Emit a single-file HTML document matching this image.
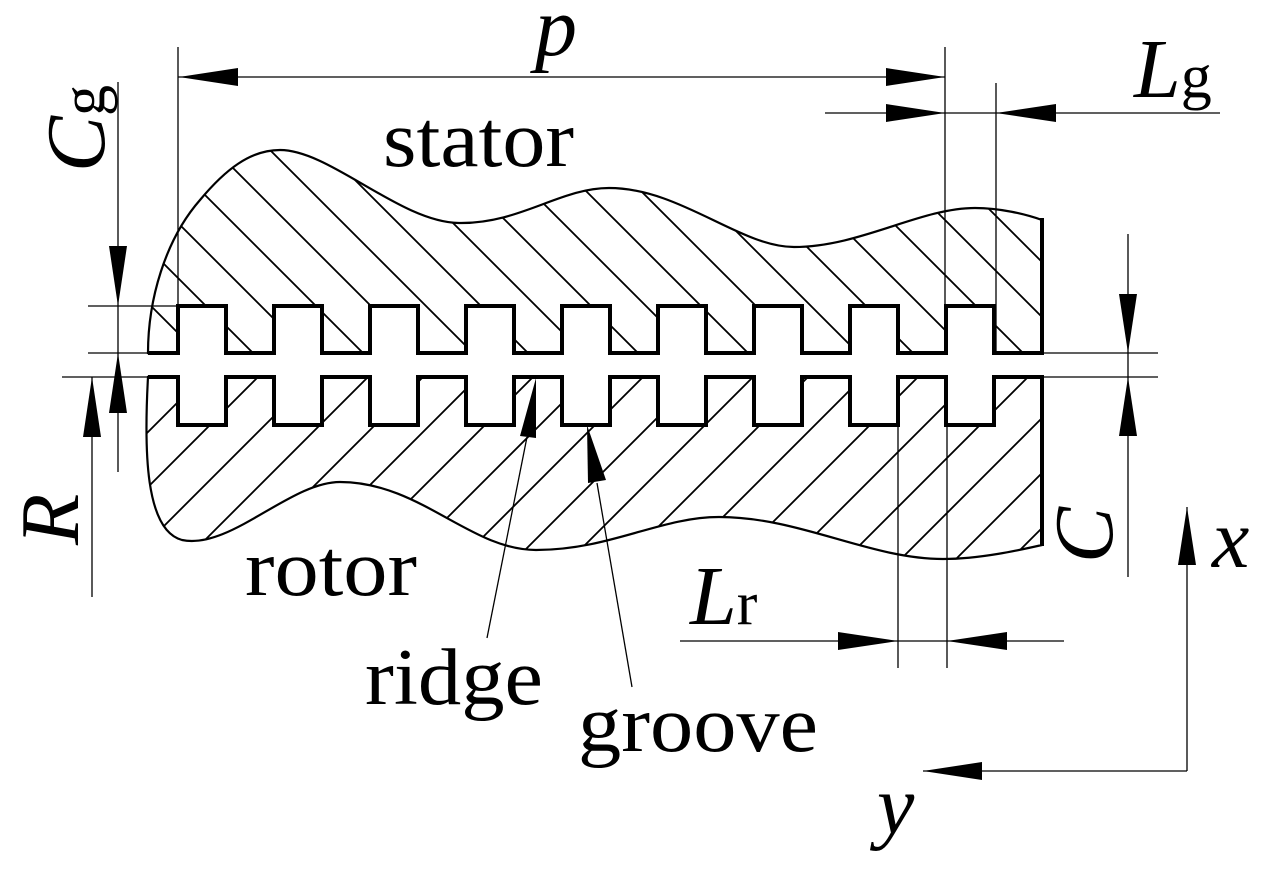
<!DOCTYPE html>
<html><head><meta charset="utf-8"><style>
html,body{margin:0;padding:0;background:#fff;}
svg{display:block;}
text{font-family:"Liberation Serif",serif;fill:#000;}
</style></head><body>
<svg width="1271" height="877" viewBox="0 0 1271 877" xmlns="http://www.w3.org/2000/svg">
<defs>
<pattern id="hs" patternUnits="userSpaceOnUse" width="55" height="55" x="10">
<path d="M0,0 L55,55 M-5,50 L5,60 M50,-5 L60,5" stroke="#000" stroke-width="1.8"/>
</pattern>
<pattern id="hr" patternUnits="userSpaceOnUse" width="55" height="55" x="30">
<path d="M0,55 L55,0 M-5,5 L5,-5 M50,60 L60,50" stroke="#000" stroke-width="1.8"/>
</pattern>
</defs>
<g id="parts"></g>
<g id="dims" stroke="#000" stroke-width="1.3" fill="none">
<line x1="178" y1="47" x2="178" y2="306"/>
<line x1="945" y1="47" x2="945" y2="353"/>
<line x1="996" y1="83" x2="996" y2="353"/>
<line x1="178" y1="77" x2="945" y2="77"/>
<line x1="825" y1="113" x2="1220" y2="113"/>
<line x1="118" y1="82" x2="118" y2="472"/>
<line x1="88" y1="306" x2="178" y2="306"/>
<line x1="88" y1="353" x2="148" y2="353"/>
<line x1="62" y1="377" x2="148" y2="377"/>
<line x1="92" y1="377" x2="92" y2="597"/>
<line x1="1128" y1="234" x2="1128" y2="577"/>
<line x1="1042" y1="353" x2="1158" y2="353"/>
<line x1="1042" y1="377" x2="1158" y2="377"/>
<line x1="898" y1="425" x2="898" y2="668"/>
<line x1="947" y1="425" x2="947" y2="668"/>
<line x1="680" y1="641" x2="1064" y2="641"/>
<line x1="1187" y1="507" x2="1187" y2="771"/>
<line x1="1187" y1="771" x2="923" y2="771"/>
<line x1="527" y1="437" x2="487" y2="638"/>
<line x1="597" y1="483" x2="632" y2="687"/>
</g>
<g fill="#000">
<polygon points="179,77 238,68 238,86"/>
<polygon points="945,77 886,68 886,86"/>
<polygon points="945,113 886,104 886,122"/>
<polygon points="996,113 1056,104 1056,122"/>
<polygon points="118,306 109,246 127,246"/>
<polygon points="118,353 109,413 127,413"/>
<polygon points="92,377 83,437 101,437"/>
<polygon points="1128,353 1119,294 1137,294"/>
<polygon points="1128,377 1119,436 1137,436"/>
<polygon points="898,641 838,632 838,650"/>
<polygon points="947,641 1007,632 1007,650"/>
<polygon points="1187,507 1178,565 1196,565"/>
<polygon points="923,771 982,762 982,780"/>
<polygon points="536,378 520,436 536,438"/>
<polygon points="587,425 588,483 606,480"/>
</g>
<text x="383" y="166" font-size="80" textLength="191" lengthAdjust="spacingAndGlyphs">stator</text>
<text x="245" y="595" font-size="80" textLength="172" lengthAdjust="spacingAndGlyphs">rotor</text>
<text x="365" y="704" font-size="80" textLength="178" lengthAdjust="spacingAndGlyphs">ridge</text>
<text x="578" y="751" font-size="80" textLength="240" lengthAdjust="spacingAndGlyphs">groove</text>
<text x="535" y="55" font-size="84" font-style="italic">p</text>
<text x="1134" y="97" font-size="84" font-style="italic">L<tspan font-style="normal" font-size="62">g</tspan></text>
<text x="690" y="624" font-size="84" font-style="italic">L<tspan font-style="normal" font-size="62">r</tspan></text>
<text x="1212" y="567" font-size="84" font-style="italic">x</text>
<text x="877" y="833" font-size="84" font-style="italic">y</text>
<text transform="translate(104,172) rotate(-90)" font-size="84" font-style="italic">C<tspan font-style="normal" font-size="62">g</tspan></text>
<text transform="translate(78,545) rotate(-90)" font-size="84" font-style="italic">R</text>
<text transform="translate(1112,563) rotate(-90)" font-size="84" font-style="italic">C</text>
</svg>
<script>
const grooveStarts = [178, 274, 370, 466, 562, 658, 754, 850, 946];
const grooveWidth = 48;
const NS = 'http://www.w3.org/2000/svg';
const g = document.getElementById('parts');
let s = 'M148,353 ';
grooveStarts.forEach(x => { s += `L${x},353 L${x},306 L${x+grooveWidth},306 L${x+grooveWidth},353 `; });
s += 'L1042,353 L1042,220 C1025,214 1000,208 975,208 C920,208 860,247 794,247 C740,247 680,188 609,188 C560,188 520,224 459,223 C400,222 330,150 280,150 C250,150 225,170 200,200 C165,240 148,300 148,353 Z';
const st = document.createElementNS(NS, 'path');
st.setAttribute('d', s);
st.setAttribute('fill', 'url(#hs)');
st.setAttribute('stroke', '#000');
st.setAttribute('stroke-width', '2.2');


g.appendChild(st);
let r = 'M148,377 ';
grooveStarts.forEach(x => { r += `L${x},377 L${x},425 L${x+grooveWidth},425 L${x+grooveWidth},377 `; });
r += 'L1042,377 L1042,545 C1020,550 980,559 943,559 C870,559 800,517 719,517 C660,517 610,550 536,550 C470,550 420,482 340,482 C290,482 230,550 182,540 C145,530 144,450 148,377 Z';
const ro = document.createElementNS(NS, 'path');
ro.setAttribute('d', r);
ro.setAttribute('fill', 'url(#hr)');
ro.setAttribute('stroke', '#000');
ro.setAttribute('stroke-width', '2.2');


g.appendChild(ro);
let ts = 'M148,353 ';
grooveStarts.forEach(x => { ts += `L${x},353 L${x},306 L${x+grooveWidth},306 L${x+grooveWidth},353 `; });
ts += 'L1042,353 L1042,218';
let tr = 'M148,377 ';
grooveStarts.forEach(x => { tr += `L${x},377 L${x},425 L${x+grooveWidth},425 L${x+grooveWidth},377 `; });
tr += 'L1042,377 L1042,546';
[ts, tr].forEach((d, i) => {
  const p = document.createElementNS(NS, 'path');
  p.setAttribute('d', d);
  p.setAttribute('fill', 'none');
  p.setAttribute('stroke', '#000');
  p.setAttribute('stroke-width', '4');
  
  
  g.appendChild(p);
});
</script>
</body></html>
